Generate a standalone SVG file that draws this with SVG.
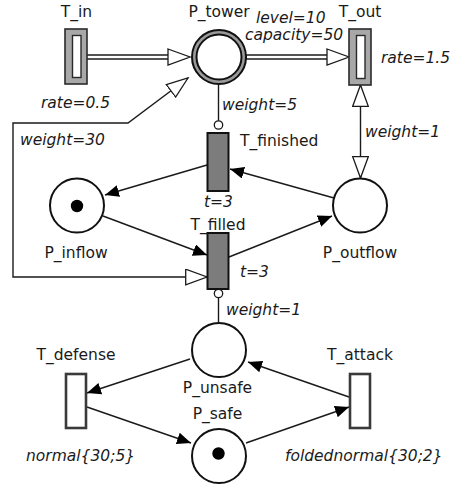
<svg xmlns="http://www.w3.org/2000/svg" width="456" height="485" viewBox="0 0 456 485">
  <style>
    text { font-family: "DejaVu Sans", "Noto Sans", sans-serif; font-size: 15.5px; fill: #1a1a1a; }
    .lbl { text-anchor: middle; }
    .ann { font-style: italic; }
    .arc { fill: none; stroke: #1a1a1a; stroke-width: 1.4; }
    .place { fill: #fff; stroke: #111; stroke-width: 2; }
    .token { fill: #000; }
    .timed { fill: #7c7c7c; stroke: #111; stroke-width: 2; }
    .stoch { fill: #fff; stroke: #3a3a3a; stroke-width: 2.6; }
    .cont-outer { fill: #a8a8a8; stroke: #2a2a2a; stroke-width: 1.6; }
    .cont-inner { fill: #fff; stroke: #2a2a2a; stroke-width: 1.4; }
    .open-head { fill: #fff; stroke: #1a1a1a; stroke-width: 1.3; }
    .inhib { fill: #fff; stroke: #1a1a1a; stroke-width: 1.3; }
  </style>
  <defs>
    <marker id="solid" markerUnits="userSpaceOnUse" markerWidth="15" markerHeight="13" refX="14" refY="6" orient="auto">
      <path d="M0,0 L14,6 L0,12 z" fill="#000"/>
    </marker>
    <marker id="open" markerUnits="userSpaceOnUse" markerWidth="24" markerHeight="18" refX="22" refY="8.5" orient="auto-start-reverse">
      <path d="M0.7,0.7 L22,8.5 L0.7,16.3 z" class="open-head"/>
    </marker>
  </defs>

  <!-- connectors -->
  <g id="arcs">
    <!-- continuous arcs (double line) -->
    <g id="arc-Tin-Ptower">
      <line x1="87" y1="57" x2="170" y2="57" stroke="#1a1a1a" stroke-width="5.4"/>
      <line x1="86" y1="57" x2="171" y2="57" stroke="#fff" stroke-width="2.6"/>
      <polygon points="168,49 190,57 168,65" class="open-head"/>
    </g>
    <g id="arc-Ptower-Tout">
      <line x1="246" y1="57" x2="329" y2="57" stroke="#1a1a1a" stroke-width="5.4"/>
      <line x1="247" y1="57" x2="330" y2="57" stroke="#fff" stroke-width="2.6"/>
      <polygon points="327,49 349,57 327,65" class="open-head"/>
    </g>

    <!-- test arcs -->
    <path d="M207,277 L13,277 L13,123 L128,123 L188,78" class="arc" marker-start="url(#open)" marker-end="url(#open)"/>
    <path d="M360.5,178 L360.5,85" class="arc" marker-start="url(#open)" marker-end="url(#open)"/>

    <!-- inhibitor arcs -->
    <line x1="218.5" y1="84" x2="218.5" y2="121" class="arc"/>
    <circle cx="218.5" cy="125" r="4.2" class="inhib"/>
    <line x1="218.5" y1="298" x2="218.5" y2="322" class="arc"/>
    <circle cx="218.5" cy="293.5" r="4.2" class="inhib"/>

    <!-- standard arcs -->
    <line x1="207" y1="165" x2="105" y2="195" class="arc" marker-end="url(#solid)"/>
    <line x1="103" y1="216" x2="207" y2="255" class="arc" marker-end="url(#solid)"/>
    <line x1="334" y1="198" x2="230" y2="169" class="arc" marker-end="url(#solid)"/>
    <line x1="229" y1="257" x2="332" y2="216" class="arc" marker-end="url(#solid)"/>
    <line x1="190" y1="359" x2="87" y2="393" class="arc" marker-end="url(#solid)"/>
    <line x1="87" y1="407" x2="191" y2="443" class="arc" marker-end="url(#solid)"/>
    <line x1="349" y1="397" x2="248" y2="362" class="arc" marker-end="url(#solid)"/>
    <line x1="246" y1="443" x2="349" y2="407" class="arc" marker-end="url(#solid)"/>
  </g>

  <!-- continuous transitions -->
  <g id="T_in">
    <rect x="65" y="29" width="22" height="55" class="cont-outer"/>
    <rect x="72.5" y="35.5" width="8.5" height="42" class="cont-inner"/>
    <text x="76.5" y="17" class="lbl">T_in</text>
  </g>
  <g id="T_out">
    <rect x="349" y="29" width="22" height="56" class="cont-outer"/>
    <rect x="356.5" y="35.5" width="8.5" height="43" class="cont-inner"/>
    <text x="360" y="17" class="lbl">T_out</text>
  </g>

  <!-- continuous place -->
  <g id="P_tower">
    <circle cx="219" cy="57" r="27" fill="#9a9a9a" stroke="#111" stroke-width="2"/>
    <circle cx="219" cy="57" r="22.5" fill="#fff" stroke="#111" stroke-width="2"/>
    <text x="219" y="17" class="lbl">P_tower</text>
  </g>

  <!-- timed transitions -->
  <g id="T_finished">
    <rect x="207.5" y="133" width="21" height="58" class="timed"/>
    <text x="240" y="146">T_finished</text>
  </g>
  <g id="T_filled">
    <rect x="207.5" y="233" width="21" height="56" class="timed"/>
    <text x="218" y="230" class="lbl">T_filled</text>
  </g>

  <!-- discrete places -->
  <g id="P_inflow">
    <circle cx="77" cy="205.5" r="27" class="place"/>
    <circle cx="77" cy="206" r="6.2" class="token"/>
    <text x="76" y="258" class="lbl">P_inflow</text>
  </g>
  <g id="P_outflow">
    <circle cx="360" cy="205.5" r="27" class="place"/>
    <text x="360" y="258" class="lbl">P_outflow</text>
  </g>
  <g id="P_unsafe">
    <circle cx="219" cy="350" r="27" class="place"/>
    <text x="217.5" y="393" class="lbl">P_unsafe</text>
  </g>
  <g id="P_safe">
    <circle cx="219" cy="456" r="27" class="place"/>
    <circle cx="218.5" cy="453.5" r="6.2" class="token"/>
    <text x="217.5" y="419" class="lbl">P_safe</text>
  </g>

  <!-- stochastic transitions -->
  <g id="T_defense">
    <rect x="66" y="374" width="20" height="54" class="stoch"/>
    <text x="76" y="360" class="lbl">T_defense</text>
  </g>
  <g id="T_attack">
    <rect x="350" y="374" width="20" height="54" class="stoch"/>
    <text x="360" y="360" class="lbl">T_attack</text>
  </g>

  <!-- annotations -->
  <g id="annotations" class="ann">
    <text x="41" y="108" class="ann">rate=0.5</text>
    <text x="20" y="145" class="ann">weight=30</text>
    <text x="256" y="23" class="ann">level=10</text>
    <text x="245" y="40" class="ann">capacity=50</text>
    <text x="381" y="63" class="ann">rate=1.5</text>
    <text x="222" y="110" class="ann">weight=5</text>
    <text x="365" y="137" class="ann">weight=1</text>
    <text x="204" y="207" class="ann">t=3</text>
    <text x="240" y="277" class="ann">t=3</text>
    <text x="226" y="315" class="ann">weight=1</text>
    <text x="26" y="461" class="ann">normal{30;5}</text>
    <text x="285" y="461" class="ann">foldednormal{30;2}</text>
  </g>
</svg>
